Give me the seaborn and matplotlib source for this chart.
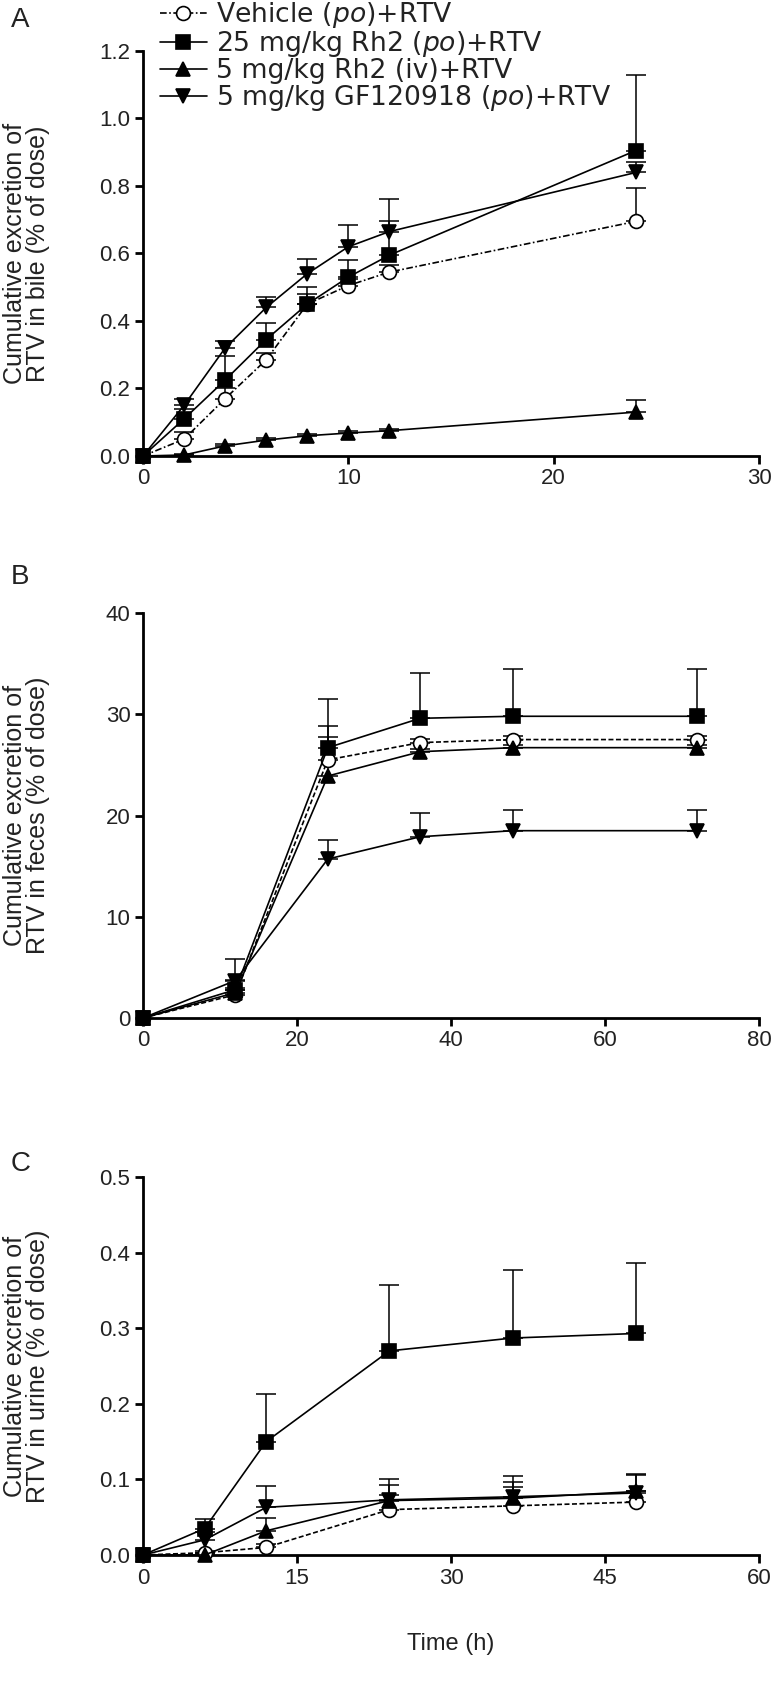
import numpy as np
import pandas as pd
import matplotlib
matplotlib.use("Agg")
import matplotlib.pyplot as plt
from matplotlib.lines import Line2D
import seaborn as sns

# ---------------- data ----------------
series_labels = [r"Vehicle ($\mathit{po}$)+RTV",
                 r"25 mg/kg Rh2 ($\mathit{po}$)+RTV",
                 r"5 mg/kg Rh2 (iv)+RTV",
                 r"5 mg/kg GF120918 ($\mathit{po}$)+RTV"]

# Panel A: bile
time_a = [0, 2, 4, 6, 8, 10, 12, 24]
bile_vehicle = [0, 0.05, 0.17, 0.285, 0.45, 0.505, 0.545, 0.695]
bile_vehicle_err = [0, 0.02, 0.03, 0.02, 0.03, 0.02, 0.02, 0.10]
bile_rh2_po = [0, 0.11, 0.225, 0.345, 0.45, 0.53, 0.595, 0.905]
bile_rh2_po_err = [0, 0.03, 0.07, 0.05, 0.05, 0.05, 0.10, 0.225]
bile_rh2_iv = [0, 0.003, 0.03, 0.047, 0.06, 0.068, 0.075, 0.13]
bile_rh2_iv_err = [0, 0.004, 0.005, 0.005, 0.005, 0.005, 0.005, 0.035]
bile_gf = [0, 0.15, 0.32, 0.44, 0.54, 0.62, 0.665, 0.84]
bile_gf_err = [0, 0.02, 0.02, 0.03, 0.045, 0.065, 0.095, 0.03]

# Panel B: feces
time_b = [0, 12, 24, 36, 48, 72]
feces_vehicle = [0, 2.3, 25.5, 27.2, 27.5, 27.5]
feces_vehicle_err = [0, 0.5, 3.3, 0.4, 0.4, 0.4]
feces_rh2_po = [0, 2.8, 26.7, 29.6, 29.8, 29.8]
feces_rh2_po_err = [0, 1.0, 4.8, 4.5, 4.7, 4.7]
feces_rh2_iv = [0, 2.5, 23.9, 26.3, 26.7, 26.7]
feces_rh2_iv_err = [0, 0.5, 3.9, 0.3, 0.3, 0.3]
feces_gf = [0, 3.7, 15.7, 17.9, 18.5, 18.5]
feces_gf_err = [0, 2.1, 1.9, 2.3, 2.0, 2.0]

# Panel C: urine
time_c = [0, 6, 12, 24, 36, 48]
urine_vehicle = [0, 0.003, 0.01, 0.06, 0.065, 0.07]
urine_vehicle_err = [0, 0.002, 0.004, 0.02, 0.025, 0.015]
urine_rh2_po = [0, 0.035, 0.15, 0.27, 0.287, 0.293]
urine_rh2_po_err = [0, 0.012, 0.063, 0.087, 0.09, 0.093]
urine_rh2_iv = [0, 0.0, 0.032, 0.072, 0.075, 0.084]
urine_rh2_iv_err = [0, 0.002, 0.017, 0.02, 0.022, 0.022]
urine_gf = [0, 0.02, 0.063, 0.073, 0.077, 0.082]
urine_gf_err = [0, 0.01, 0.028, 0.027, 0.027, 0.025]

ylabels = ["Cumulative excretion of\nRTV in bile (% of dose)",
           "Cumulative excretion of\nRTV in feces (% of dose)",
           "Cumulative excretion of\nRTV in urine (% of dose)"]
panel_letters = ["A", "B", "C"]
xticks_list = [[0, 10, 20, 30], [0, 20, 40, 60, 80], [0, 15, 30, 45, 60]]
yticks_list = [[0, 0.2, 0.4, 0.6, 0.8, 1.0, 1.2], [0, 10, 20, 30, 40],
               [0, 0.1, 0.2, 0.3, 0.4, 0.5]]
ytick_fmt = ["{:.1f}", "{:.0f}", "{:.1f}"]

# ---------------- style ----------------
sns.set_theme(style="ticks")
plt.rcParams['font.family'] = ['Liberation Sans', 'DejaVu Sans']
plt.rcParams['mathtext.fontset'] = 'custom'
plt.rcParams['mathtext.rm'] = 'DejaVu Sans'
plt.rcParams['mathtext.it'] = 'DejaVu Sans:italic'

markers = ['o', 's', '^', 'v']
facecolors = ['white', 'black', 'black', 'black']
msizes = [10, 10.5, 10, 10]
txt_color = '#222222'

fig = plt.figure(figsize=(7.73, 16.82), dpi=100)

W, H = 773.0, 1682.0
left_px, right_px = 143, 759
panel_px = [(51, 456), (613, 1018), (1177, 1555)]
letter_y = [20, 577, 1164]

panels = [
    (time_a, [bile_vehicle, bile_rh2_po, bile_rh2_iv, bile_gf],
     [bile_vehicle_err, bile_rh2_po_err, bile_rh2_iv_err, bile_gf_err], (0, 30), (0, 1.2),
     (0, (4, 1.5, 1, 1.5))),
    (time_b, [feces_vehicle, feces_rh2_po, feces_rh2_iv, feces_gf],
     [feces_vehicle_err, feces_rh2_po_err, feces_rh2_iv_err, feces_gf_err], (0, 80), (0, 40),
     (0, (3, 1.5))),
    (time_c, [urine_vehicle, urine_rh2_po, urine_rh2_iv, urine_gf],
     [urine_vehicle_err, urine_rh2_po_err, urine_rh2_iv_err, urine_gf_err], (0, 60), (0, 0.5),
     (0, (3, 1.5))),
]

for i, (t, ys, es, xl, yl, vls) in enumerate(panels):
    top_px, bot_px = panel_px[i]
    ax = fig.add_axes([left_px / W, 1 - bot_px / H, (right_px - left_px) / W,
                       (bot_px - top_px) / H])
    for j in range(4):
        df = pd.DataFrame({"t": t, "v": ys[j]})
        ls = vls if j == 0 else '-'
        err = np.array(es[j])
        mask = err > 0
        ax.errorbar(np.array(t)[mask], np.array(ys[j])[mask],
                    yerr=[np.zeros(mask.sum()), err[mask]], fmt='none',
                    ecolor='black', elinewidth=1.1, capsize=7, capthick=1.1,
                    zorder=2, clip_on=False)
        sns.lineplot(data=df, x="t", y="v", ax=ax, color='black', linestyle=ls,
                     linewidth=1.2, marker=markers[j], markersize=msizes[j],
                     markerfacecolor=facecolors[j], markeredgecolor='black',
                     markeredgewidth=1.2, errorbar=None, sort=False, legend=False,
                     clip_on=False, zorder=3)
    ax.set_xlim(*xl)
    ax.set_ylim(*yl)
    ax.set_xticks(xticks_list[i])
    ax.set_xticklabels([str(v) for v in xticks_list[i]])
    ax.set_yticks(yticks_list[i])
    ax.set_yticklabels([ytick_fmt[i].format(v) for v in yticks_list[i]])
    ax.tick_params(axis='both', direction='out', length=6, width=2,
                   labelsize=16, color='black', labelcolor=txt_color, pad=3)
    for s in ['top', 'right']:
        ax.spines[s].set_visible(False)
    for s in ['left', 'bottom']:
        ax.spines[s].set_linewidth(2)
        ax.spines[s].set_color('black')
    ax.set_ylabel(ylabels[i], fontsize=18, color=txt_color, linespacing=0.95)
    ax.yaxis.set_label_coords((50 - left_px) / (right_px - left_px), 0.5)
    ax.set_xlabel("Time (h)" if i == 2 else "", fontsize=17, color=txt_color,
                  labelpad=32)
    fig.text(11 / W, 1 - letter_y[i] / H, panel_letters[i], fontsize=20,
             color=txt_color, va='center', ha='left')
    if i == 0:
        handles = []
        for j in range(4):
            handles.append(Line2D([0], [0], color='black',
                                  linestyle=vls if j == 0 else '-', linewidth=1.2,
                                  marker=markers[j], markersize=msizes[j],
                                  markerfacecolor=facecolors[j],
                                  markeredgecolor='black', markeredgewidth=1.2))
        fig.legend(handles, series_labels, loc='upper left',
                   bbox_to_anchor=(160 / W, 1 - 0 / H), frameon=False,
                   prop={'family': 'DejaVu Sans', 'size': 19.2},
                   handlelength=1.75, handletextpad=0.35, handleheight=0.5,
                   labelspacing=-0.04, borderaxespad=0, borderpad=0,
                   labelcolor=txt_color)

fig.savefig("out.png", dpi=100)
